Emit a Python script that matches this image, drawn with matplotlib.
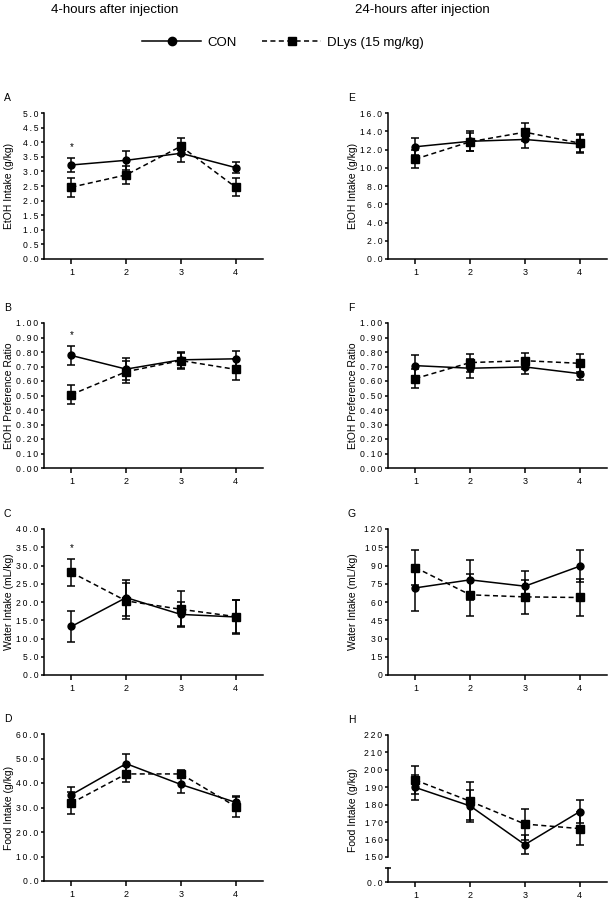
import numpy as np
import matplotlib
matplotlib.use("Agg")
import matplotlib.pyplot as plt
from matplotlib.ticker import FuncFormatter, FixedLocator
from matplotlib.lines import Line2D

plt.rcParams['font.family'] = ['Liberation Sans', 'DejaVu Sans']

days = [1, 2, 3, 4]

# A: EtOH intake, 4 h
etoh_4h_con = [3.22, 3.38, 3.62, 3.13]
etoh_4h_con_err = [0.25, 0.33, 0.30, 0.20]
etoh_4h_dlys = [2.46, 2.88, 3.86, 2.46]
etoh_4h_dlys_err = [0.33, 0.30, 0.30, 0.30]

# B: EtOH preference, 4 h
pref_4h_con = [0.776, 0.682, 0.746, 0.753]
pref_4h_con_err = [0.063, 0.075, 0.055, 0.055]
pref_4h_dlys = [0.506, 0.664, 0.741, 0.680]
pref_4h_dlys_err = [0.068, 0.075, 0.055, 0.073]

# C: water intake, 4 h
water_4h_con = [13.3, 21.2, 16.6, 15.9]
water_4h_con_err = [4.15, 4.9, 3.3, 4.6]
water_4h_dlys = [28.1, 20.3, 18.0, 16.0]
water_4h_dlys_err = [3.65, 5.0, 4.9, 4.6]

# D: food intake, 4 h
food_4h_con = [35.2, 47.9, 39.4, 32.1]
food_4h_con_err = [3.1, 3.8, 3.3, 2.3]
food_4h_dlys = [31.8, 43.7, 43.7, 30.4]
food_4h_dlys_err = [4.4, 3.3, 1.8, 4.1]

# E: EtOH intake, 24 h
etoh_24h_con = [12.3, 12.9, 13.1, 12.6]
etoh_24h_con_err = [0.95, 1.1, 0.9, 0.95]
etoh_24h_dlys = [10.95, 12.85, 13.9, 12.7]
etoh_24h_dlys_err = [1.0, 1.0, 0.95, 1.0]

# F: EtOH preference, 24 h
pref_24h_con = [0.706, 0.688, 0.697, 0.651]
pref_24h_con_err = [0.070, 0.064, 0.047, 0.045]
pref_24h_dlys = [0.617, 0.727, 0.740, 0.722]
pref_24h_dlys_err = [0.063, 0.062, 0.055, 0.063]

# G: water intake, 24 h
water_24h_con = [71.6, 78.2, 73.0, 89.4]
water_24h_con_err = [18.6, 16.7, 12.3, 13.1]
water_24h_dlys = [88.3, 65.9, 64.2, 63.7]
water_24h_dlys_err = [14.2, 17.5, 14.2, 15.0]

# H: food intake, 24 h
food_24h_con = [189.9, 179.3, 157.1, 176.0]
food_24h_con_err = [7.3, 9.2, 5.6, 6.5]
food_24h_dlys = [194.1, 182.0, 168.9, 166.3]
food_24h_dlys_err = [7.9, 11.0, 8.9, 9.4]

SP = '\u2009'


def spaced(s):
    return SP.join(s)


def tick_fmt(fmt):
    return FuncFormatter(lambda v, p: spaced(fmt.format(v)))


W = 611.0
H = 900.0
LABEL_X = -0.137


def px_axes(fig, x0, x1, ytop, ybot):
    return fig.add_axes([x0 / W, 1 - ybot / H, (x1 - x0) / W, (ybot - ytop) / H])


def style(ax, xlabels=True):
    for s in ['top', 'right']:
        ax.spines[s].set_visible(False)
    for s in ['left', 'bottom']:
        ax.spines[s].set_linewidth(1.1)
    ax.set_xlim(0.5, 4.5)
    ax.set_xticks(days)
    ax.set_xticklabels([str(d) for d in days] if xlabels else [])
    ax.tick_params(axis='y', direction='out', length=2.5, width=1.1, labelsize=6.2, pad=1.5)
    ax.tick_params(axis='x', direction='out', length=3.5, width=1.1, labelsize=6.5, pad=3)


def draw_series(ax, con, con_err, dlys, dlys_err):
    ax.errorbar(days, dlys, yerr=dlys_err, color='black', linestyle=(0, (3.3, 2.2)),
                lw=1.1, marker='s', ms=5.2, capsize=2.8, capthick=1.1, elinewidth=1.1,
                clip_on=False)
    ax.errorbar(days, con, yerr=con_err, color='black', linestyle='-',
                lw=1.1, marker='o', ms=5.0, capsize=2.8, capthick=1.1, elinewidth=1.1,
                clip_on=False)


def panel(fig, letter, x0, x1, ytop, ybot, con, con_err, dlys, dlys_err,
          ymax, ystep, fmt, ylabel, star=None):
    ax = px_axes(fig, x0, x1, ytop, ybot)
    style(ax)
    draw_series(ax, con, con_err, dlys, dlys_err)
    ax.set_ylim(0, ymax)
    ax.yaxis.set_major_locator(FixedLocator(np.arange(0, ymax + ystep / 2, ystep)))
    ax.yaxis.set_major_formatter(tick_fmt(fmt))
    ax.set_ylabel(ylabel, fontsize=7.5)
    ax.yaxis.set_label_coords(LABEL_X, 0.5)
    fig.text((x0 - 40) / W, 1 - (ytop - 15) / H, letter, fontsize=7.5,
             ha='left', va='center')
    if star is not None:
        ax.text(1, star, '*', ha='center', va='center', fontsize=7)
    return ax


fig = plt.figure(figsize=(6.11, 9.0), dpi=100)

LX0, LX1 = 44, 263
RX0, RX1 = 388, 607

panel(fig, 'A', LX0, LX1, 113, 259, etoh_4h_con, etoh_4h_con_err, etoh_4h_dlys,
      etoh_4h_dlys_err, 5.0, 0.5, '{:.1f}', 'EtOH Intake (g/kg)', star=3.84)
panel(fig, 'B', LX0, LX1, 323, 468, pref_4h_con, pref_4h_con_err, pref_4h_dlys,
      pref_4h_dlys_err, 1.0, 0.1, '{:.2f}', 'EtOH Preference Ratio', star=0.915)
panel(fig, 'C', LX0, LX1, 529, 675, water_4h_con, water_4h_con_err, water_4h_dlys,
      water_4h_dlys_err, 40.0, 5.0, '{:.1f}', 'Water Intake (mL/kg)', star=34.7)
panel(fig, 'D', LX0, LX1, 734, 881, food_4h_con, food_4h_con_err, food_4h_dlys,
      food_4h_dlys_err, 60.0, 10.0, '{:.1f}', 'Food Intake (g/kg)')

panel(fig, 'E', RX0, RX1, 113, 259, etoh_24h_con, etoh_24h_con_err, etoh_24h_dlys,
      etoh_24h_dlys_err, 16.0, 2.0, '{:.1f}', 'EtOH Intake (g/kg)')
panel(fig, 'F', RX0, RX1, 323, 468, pref_24h_con, pref_24h_con_err, pref_24h_dlys,
      pref_24h_dlys_err, 1.0, 0.1, '{:.2f}', 'EtOH Preference Ratio')
panel(fig, 'G', RX0, RX1, 529, 675, water_24h_con, water_24h_con_err, water_24h_dlys,
      water_24h_dlys_err, 120, 15, '{:.0f}', 'Water Intake (mL/kg)')

# H: broken y axis
ax_h = px_axes(fig, RX0, RX1, 735, 857)
style(ax_h, xlabels=False)
ax_h.spines['bottom'].set_visible(False)
ax_h.tick_params(axis='x', length=0)
draw_series(ax_h, food_24h_con, food_24h_con_err, food_24h_dlys, food_24h_dlys_err)
ax_h.set_ylim(150, 220)
ax_h.yaxis.set_major_locator(FixedLocator(np.arange(150, 221, 10)))
ax_h.yaxis.set_major_formatter(tick_fmt('{:.0f}'))
ax_h.set_ylabel('Food Intake (g/kg)', fontsize=7.5)
ax_h.yaxis.set_label_coords(LABEL_X, 0.385)
fig.text((RX0 - 40) / W, 1 - (735 - 15) / H, 'H', fontsize=7.5, ha='left', va='center')

ax_hl = px_axes(fig, RX0, RX1, 868, 882)
style(ax_hl)
ax_hl.set_ylim(0, 1)
ax_hl.set_yticks([0])
ax_hl.set_yticklabels([spaced('0.0')])
ax_hl.set_yticks([1], minor=True)
ax_hl.tick_params(axis='y', which='minor', direction='inout', length=5, width=1.1)
ax_hl.patch.set_alpha(0)

# column titles
fig.text(115 / W, 1 - 10 / H, '4-hours after injection', fontsize=9.5, ha='center', va='center')
fig.text(422 / W, 1 - 10 / H, '24-hours after injection', fontsize=9.5, ha='center', va='center')

# legend
handles = [
    Line2D([], [], color='black', lw=1.1, linestyle='-', marker='o', ms=6),
    Line2D([], [], color='black', lw=1.1, linestyle=(0, (3.3, 2.2)), marker='s', ms=6),
]
fig.legend(handles, ['CON', 'DLys (15 mg/kg)'], loc='center', ncol=2,
           bbox_to_anchor=(283 / W, 1 - 43 / H), frameon=False, fontsize=9.5,
           handlelength=4.5, handletextpad=0.45, columnspacing=1.9)

fig.savefig('out.png', dpi=100)
